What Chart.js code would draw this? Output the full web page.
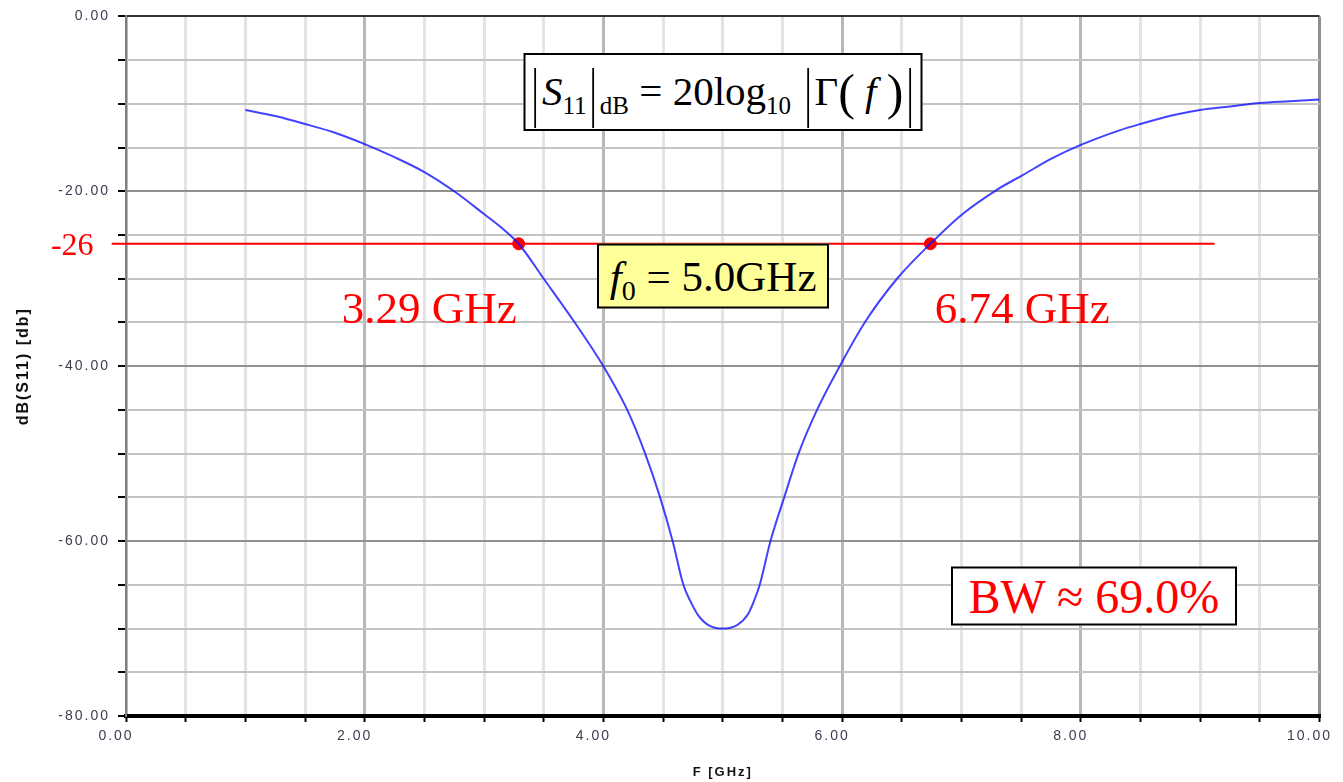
<!DOCTYPE html>
<html>
<head>
<meta charset="utf-8">
<script src="https://cdn.jsdelivr.net/npm/chart.js@4.4.1/dist/chart.umd.min.js"></script>
<style>
  html, body { margin: 0; padding: 0; background: #fff; }
  #wrap { position: relative; width: 1343px; height: 782px; }
  .note {
    position: absolute;
    transform: translate(-50%, -50%);
    font-family: "Liberation Serif", "Times New Roman", serif;
    white-space: nowrap;
    line-height: 1;
  }
  .box {
    box-sizing: border-box;
    border: 2px solid #000;
    background: #fff;
    display: flex;
    align-items: center;
    justify-content: center;
  }
  .red { color: #ff0000; }
  #formula { width: 399px; height: 78px; font-size: 41px; color: #000; }
  #formula .vb { font-size: 66px; display: inline-block; transform: scaleX(0.55); vertical-align: -9px; }
  #formula sub { font-size: 25px; vertical-align: -9px; line-height: 0; }
  #formula .par { font-size: 50px; vertical-align: -4px; }
  #f0 { width: 232px; height: 65px; font-size: 43px; background: #ffff99; }
  #f0 sub { font-size: 28px; vertical-align: -9px; line-height: 0; }
  #bw { width: 286px; height: 59px; font-size: 48px; }
  #lvl { font-size: 32px; }
  .ghz { font-size: 45px; }
</style>
</head>
<body>
<div id="wrap">
  <canvas id="s11Chart"></canvas>
  <div id="formula" class="note box"><span><span class="vb">|</span><i>S</i><sub>11</sub><span class="vb">|</span><sub>dB</sub>&nbsp;=&nbsp;20log<sub>10</sub>&nbsp;<span class="vb">|</span>Γ<span class="par">(</span>&nbsp;<i>f</i>&nbsp;<span class="par">)</span><span class="vb">|</span></span></div>
  <div id="f0" class="note box"><span><i>f</i><sub>0</sub>&nbsp;=&nbsp;5.0GHz</span></div>
  <div id="bw" class="note box red"><span>BW ≈ 69.0%</span></div>
  <div id="lvl" class="note red">-26</div>
  <div id="lowLabel" class="note red ghz">3.29 GHz</div>
  <div id="highLabel" class="note red ghz">6.74 GHz</div>
</div>
<script>
// S11 sweep (GHz, dB)
const freqs = [1.0, 1.25, 1.5, 1.75, 2.0, 2.25, 2.5, 2.75, 3.0, 3.15, 3.29, 3.50, 3.76,
               4.00, 4.20, 4.35, 4.475, 4.58, 4.67, 4.73, 4.79, 4.88, 5.0, 5.12, 5.21, 5.26,
               5.31, 5.40, 5.515, 5.635, 5.79, 5.98, 6.19, 6.46, 6.74, 7.0, 7.3, 7.52, 7.75,
               8.0, 8.33, 8.5, 8.77, 9.0, 9.25, 9.5, 9.75, 10.0];
const s11dB = [-10.7, -11.4, -12.3, -13.3, -14.6, -16.1, -17.8, -20.0, -22.6, -24.2, -26.0, -30.0, -35.0,
               -40.0, -45.0, -50.0, -55.0, -60.0, -65.0, -66.9, -68.4, -69.6, -70.0, -69.6, -68.4, -66.9,
               -65.0, -60.0, -55.0, -50.0, -45.0, -40.0, -35.0, -30.0, -26.0, -22.7, -19.8, -18.1, -16.3,
               -14.7, -13.0, -12.3, -11.3, -10.7, -10.3, -9.9, -9.7, -9.5];

// -26 dB reference and the band edges
const refLevel = -26;
const refSpan = [-0.12, 9.12];
const edgeFreqs = [3.29, 6.74];

const sweep = freqs.map((f, i) => ({ x: f, y: s11dB[i] }));
const refLine = refSpan.map(f => ({ x: f, y: refLevel }));
const edges = edgeFreqs.map(f => ({ x: f, y: refLevel }));

// tick text looks spaced out in the original
const spacing = {
    id: 'spacing',
    beforeDraw(chart) { chart.ctx.letterSpacing = '2px'; },
    afterDraw(chart) { chart.ctx.letterSpacing = '0px'; }
};

const ctx = document.getElementById('s11Chart').getContext('2d');
const chart = new Chart(ctx, {
    type: 'scatter',
    data: {
        datasets: [
            {
                data: sweep,
                showLine: true,
                borderColor: 'rgba(20, 20, 255, 0.8)',
                borderWidth: 2,
                pointRadius: 0,
                cubicInterpolationMode: 'monotone'
            },
            {
                data: refLine,
                showLine: true,
                borderColor: '#ff0000',
                borderWidth: 2,
                pointRadius: 0,
                clip: false
            },
            {
                data: edges,
                showLine: false,
                pointRadius: 6,
                pointBackgroundColor: '#ff0000',
                pointBorderColor: '#ff0000'
            }
        ]
    },
    options: {
        responsive: true,
        maintainAspectRatio: false,
        animation: false,
        layout: { padding: { top: 16, right: 16, left: 0, bottom: 0 } },
        plugins: {
            legend: { display: false },
            tooltip: { enabled: false }
        },
        scales: {
            x: {
                type: 'linear',
                min: 0,
                max: 10,
                afterFit(scale) { scale.height = 66; },
                ticks: {
                    stepSize: 0.5,
                    autoSkip: false,
                    maxRotation: 0,
                    padding: 6,
                    labelOffset: -10,
                    color: '#3c3c50',
                    font: { family: 'Arial', size: 14 },
                    callback: v => (Math.abs(v % 2) < 1e-6 ? v.toFixed(2) : '')
                },
                grid: {
                    color: c => (c.tick.value === 10 ? '#909090' : (c.tick.value % 2 === 0 ? '#b8b8b8' : '#e4e4e4')),
                    lineWidth: 3,
                    tickLength: 6,
                    tickColor: '#000',
                    tickWidth: 2
                },
                border: { color: '#000', width: 4 },
                title: {
                    display: true,
                    text: 'F [GHz]',
                    color: '#111',
                    font: { family: 'Arial', size: 13, weight: 'bold' },
                    padding: { top: 0, bottom: 2 }
                }
            },
            y: {
                min: -80,
                max: 0,
                afterFit(scale) { scale.width = 126; },
                ticks: {
                    stepSize: 5,
                    autoSkip: false,
                    padding: 8,
                    color: '#3c3c50',
                    font: { family: 'Arial', size: 14 },
                    callback: v => (v % 20 === 0 ? v.toFixed(2) : '')
                },
                grid: {
                    color: c => (c.tick.value === 0 ? '#333333' : (c.tick.value % 20 === 0 ? '#909090' : '#c4c4c4')),
                    lineWidth: 2,
                    tickLength: 8,
                    tickColor: '#000',
                    tickWidth: 2
                },
                border: { color: '#808080', width: 2 },
                title: {
                    display: true,
                    text: 'dB(S11) [db]',
                    color: '#111',
                    font: { family: 'Arial', size: 16, weight: 'bold' },
                    padding: { top: 14, bottom: 0 }
                }
            }
        }
    },
    plugins: [spacing]
});

// pin the text boxes to data coordinates
function place(id, f, db) {
    const el = document.getElementById(id);
    el.style.left = chart.scales.x.getPixelForValue(f) + 'px';
    el.style.top = chart.scales.y.getPixelForValue(db) + 'px';
}
place('formula', 5.0, -8.6);
place('f0', 4.92, -29.7);
place('bw', 8.11, -66.3);
place('lvl', -0.45, -26);
place('lowLabel', 2.54, -33.3);
place('highLabel', 7.51, -33.3);
</script>
</body>
</html>
